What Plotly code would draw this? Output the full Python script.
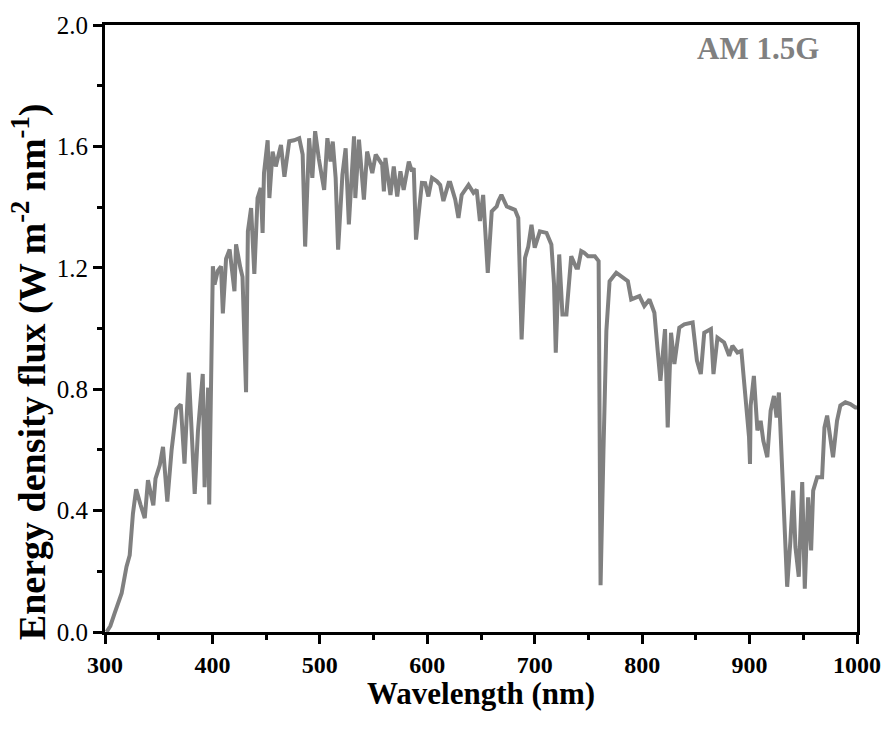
import plotly.graph_objects as go

wavelength = [
    301.5, 305, 309, 315.5, 320, 323, 326, 329, 333, 337, 340, 345, 347, 351, 354, 358, 362,
    366.5, 370.5, 374, 378, 383.5, 386.5, 391, 392.7, 396, 397, 399, 400.4, 402, 405, 408,
    409.7, 412.7, 416, 420.5, 422, 426, 428, 431.3, 433, 436, 439, 442, 445, 446.7, 448,
    451.4, 453, 456, 459, 463.8, 467, 471.5, 476, 480.8, 484, 486.3, 490, 493, 495.6, 499,
    504, 507, 510, 512, 514.7, 517, 521, 524, 527, 531.8, 533, 536.4, 541, 544, 548.8, 552,
    558, 559.6, 561, 565.7, 568.8, 572, 575, 578, 582.8, 585.7, 587.4, 589.5, 593.5, 595, 598,
    601, 604.4, 609, 612, 615, 619.9, 621.4, 626, 629, 632, 638.4, 643, 646, 649, 652, 656.3,
    660, 664.6, 666.2, 669, 674, 681.6, 684.7, 687.8, 691, 694, 697, 700, 704.8, 711, 715.5,
    718, 719.6, 722.8, 725.8, 729.5, 734, 738.7, 740.3, 743.3, 745.9, 749.6, 756, 759.5,
    761.3, 764, 766.7, 769.7, 775.9, 786.7, 789.8, 797.5, 802, 806.8, 811.4, 814.5, 817,
    821.3, 823.8, 826.9, 830, 834.6, 839.2, 847, 851, 854.6, 857.8, 864, 866.4, 870.1, 876.3,
    881, 884, 888.7, 892.4, 894.8, 898, 899.5, 900.4, 901, 904, 907.3, 910.3, 912.8, 916.5,
    919.6, 922.7, 925.1, 927.3, 930.4, 935, 938, 940.6, 942.7, 945.8, 949, 951.4, 954.5,
    957.3, 959.2, 962.9, 967.5, 969.7, 972.2, 974.6, 977.7, 981.4, 984.5, 989.2, 993.8,
    998.5, 1000,
]

flux = [
    0.0, 0.02, 0.062, 0.128, 0.215, 0.253, 0.39, 0.47, 0.42, 0.375, 0.50, 0.417, 0.505, 0.55,
    0.61, 0.43, 0.60, 0.735, 0.75, 0.555, 0.855, 0.455, 0.66, 0.85, 0.477, 0.805, 0.42, 0.93,
    1.205, 1.145, 1.19, 1.205, 1.05, 1.23, 1.26, 1.123, 1.277, 1.2, 1.17, 0.79, 1.32, 1.397,
    1.18, 1.43, 1.463, 1.315, 1.512, 1.62, 1.43, 1.583, 1.534, 1.605, 1.50, 1.617, 1.62,
    1.627, 1.573, 1.27, 1.627, 1.496, 1.65, 1.56, 1.457, 1.627, 1.55, 1.616, 1.496, 1.26,
    1.507, 1.594, 1.343, 1.633, 1.43, 1.622, 1.425, 1.583, 1.512, 1.573, 1.54, 1.452, 1.562,
    1.44, 1.534, 1.435, 1.518, 1.457, 1.55, 1.518, 1.529, 1.293, 1.43, 1.48, 1.479,
    1.435, 1.496, 1.485, 1.473, 1.42, 1.48, 1.48, 1.425, 1.364, 1.44, 1.473, 1.447, 1.457,
    1.354, 1.44, 1.183,
    1.386, 1.402, 1.42, 1.44, 1.402, 1.391, 1.364, 0.964, 1.233, 1.27, 1.342, 1.266, 1.32,
    1.315, 1.277,
    1.145, 0.92, 1.244, 1.046, 1.046, 1.238, 1.2, 1.2, 1.255, 1.25, 1.238, 1.238, 1.222,
    0.154, 0.6, 0.992, 1.156, 1.184, 1.156, 1.096, 1.107, 1.074, 1.096, 1.052, 0.926, 0.828,
    0.998, 0.674, 0.986, 0.883, 1.003, 1.014, 1.02, 0.894, 0.85, 0.986, 0.998, 0.85, 0.97,
    0.954,
    0.91, 0.943, 0.921, 0.926, 0.828, 0.718, 0.642, 0.554, 0.746, 0.844, 0.664, 0.696, 0.63,
    0.576,
    0.729, 0.778, 0.707, 0.789, 0.554, 0.149, 0.3, 0.466, 0.28, 0.182, 0.494, 0.143, 0.444,
    0.269, 0.466, 0.51, 0.51, 0.674, 0.713, 0.642, 0.576, 0.696, 0.746, 0.757, 0.751,
    0.74, 0.74,
]

x_ticks = [300, 400, 500, 600, 700, 800, 900, 1000]
y_ticks = [0.0, 0.4, 0.8, 1.2, 1.6, 2.0]
y_tick_labels = ["0.0", "0.4", "0.8", "1.2", "1.6", "2.0"]

SERIF = "Liberation Serif, Times New Roman, serif"

fig = go.Figure()
fig.add_trace(go.Scatter(
    x=wavelength, y=flux, mode="lines",
    line=dict(color="#808080", width=4),
    showlegend=False, hoverinfo="x+y",
))

fig.update_layout(
    width=893, height=735,
    margin=dict(l=105, r=33, t=23, b=103),
    paper_bgcolor="white", plot_bgcolor="white",
    font=dict(family=SERIF, color="black"),
    xaxis=dict(
        range=[300, 1000], tickvals=x_ticks, ticktext=[str(v) for v in x_ticks],
        showgrid=False, zeroline=False,
        showline=True, linecolor="black", linewidth=3, mirror=True,
        ticks="outside", ticklen=9, tickwidth=3, tickcolor="black",
        minor=dict(dtick=50, tick0=300, ticks="outside", ticklen=5, tickwidth=3, tickcolor="black"),
        tickfont=dict(family=SERIF, size=24, color="black", weight="bold"),
    ),
    yaxis=dict(
        range=[0, 2.0], tickvals=y_ticks, ticktext=y_tick_labels,
        showgrid=False, zeroline=False,
        showline=True, linecolor="black", linewidth=3, mirror=True,
        ticks="outside", ticklen=9, tickwidth=3, tickcolor="black",
        minor=dict(dtick=0.2, tick0=0, ticks="outside", ticklen=5, tickwidth=3, tickcolor="black"),
        tickfont=dict(family=SERIF, size=25, color="black"),
    ),
    annotations=[
        dict(
            text="<b>AM 1.5G</b>", x=0.869, y=0.9606, xref="paper", yref="paper",
            xanchor="center", yanchor="middle", showarrow=False,
            font=dict(family=SERIF, size=31, color="#808080"),
        ),
        dict(
            text="<b>Wavelength (nm)</b>", x=0.5, y=-0.1018, xref="paper", yref="paper",
            xanchor="center", yanchor="middle", showarrow=False,
            font=dict(family=SERIF, size=31, color="black"),
        ),
        dict(
            text="<b>Energy density flux (W m<sup>-2</sup> nm<sup>-1</sup>)</b>",
            x=-0.0993, y=0.4286, xref="paper", yref="paper", textangle=-90,
            xanchor="center", yanchor="middle", showarrow=False,
            font=dict(family=SERIF, size=38, color="black"),
        ),
    ],
)

fig.write_html("out.html")
